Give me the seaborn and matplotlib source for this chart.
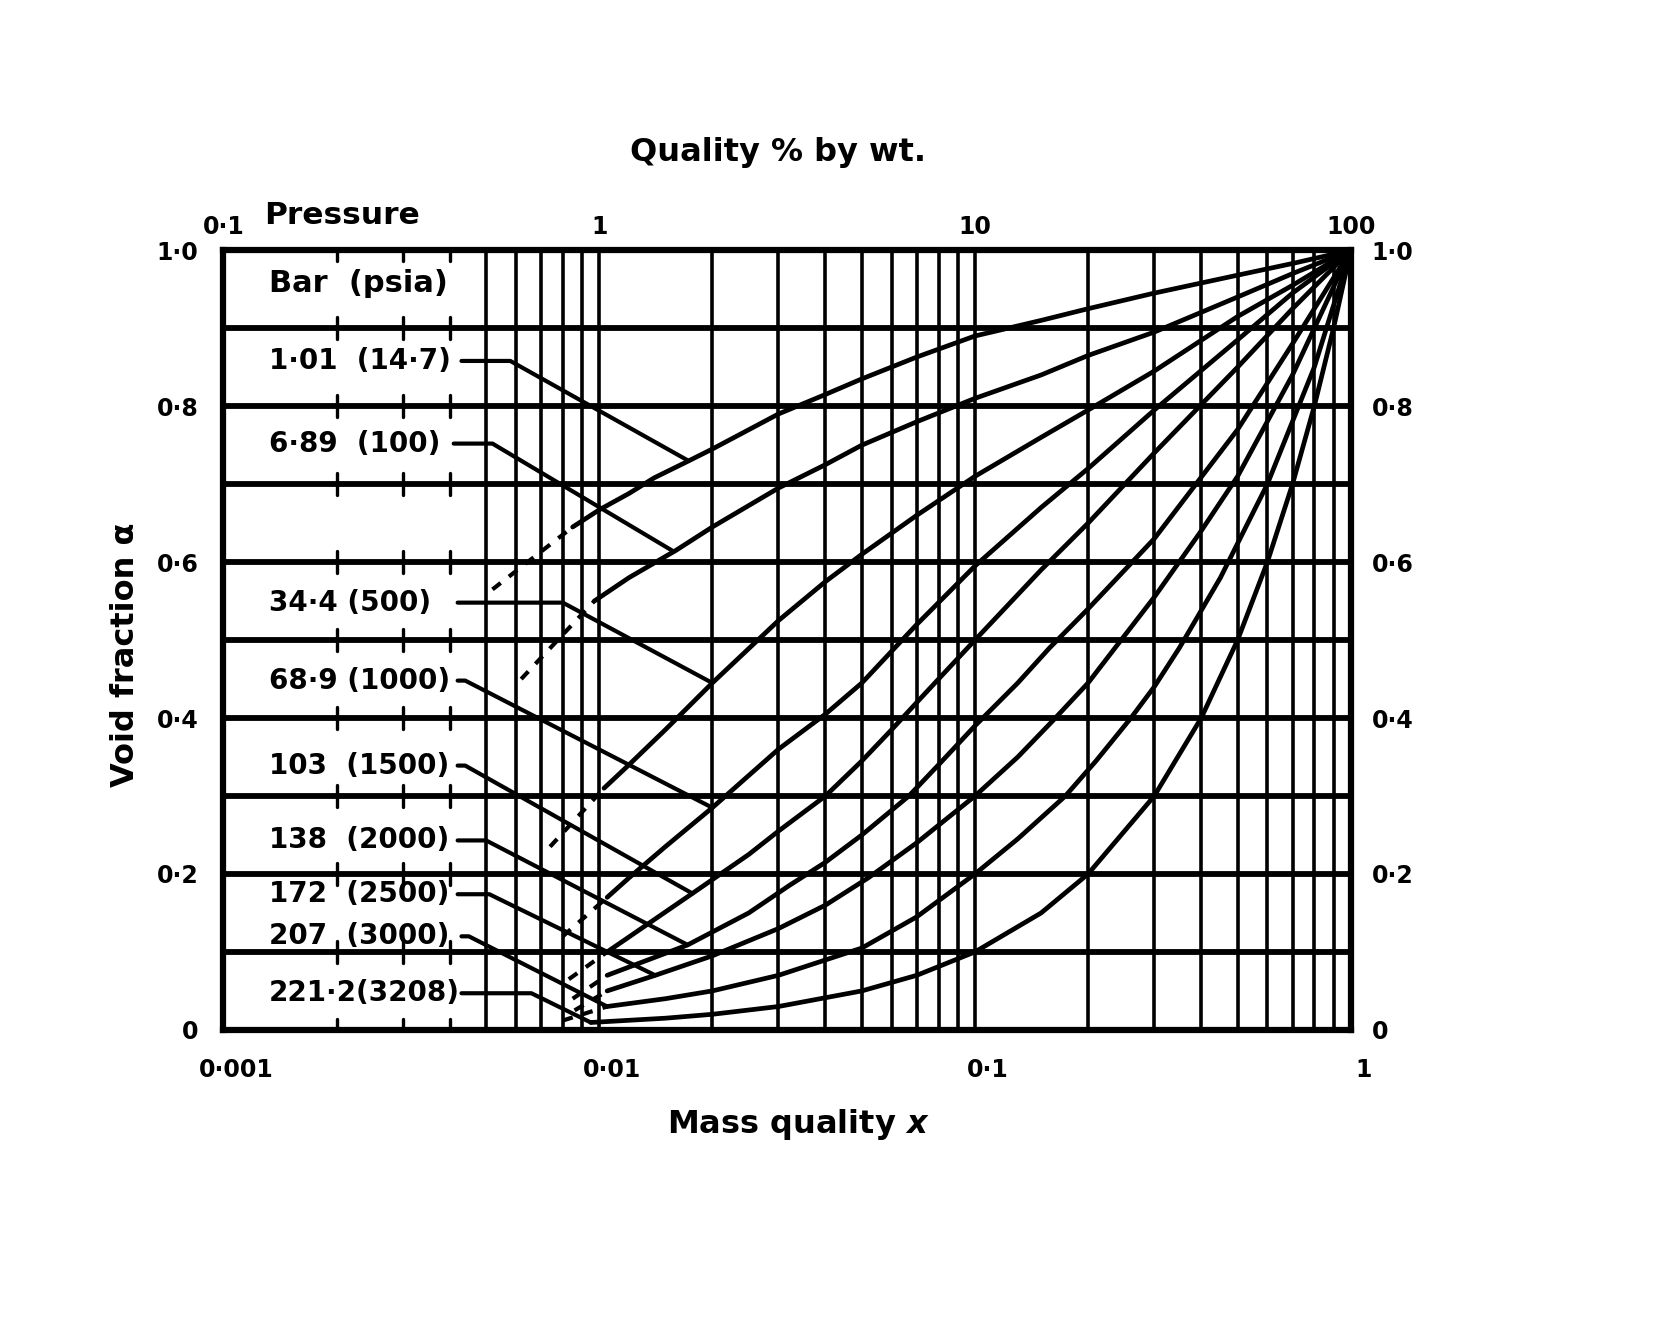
import numpy as np
import pandas as pd
import matplotlib
matplotlib.use("Agg")
import matplotlib.pyplot as plt
import matplotlib.transforms as mtransforms
from matplotlib.ticker import NullLocator, FixedLocator
import seaborn as sns

# ---------------- data ----------------
curve_names = ["1·01  (14·7)", "6·89  (100)", "34·4 (500)", "68·9 (1000)",
               "103  (1500)", "138  (2000)", "172  (2500)", "207  (3000)",
               "221·2(3208)"]
label_alpha = [0.858, 0.752, 0.548, 0.448, 0.339, 0.243, 0.174, 0.120, 0.047]

x_p1 = [0.0085, 0.010, 0.012, 0.014, 0.017, 0.020, 0.030, 0.040, 0.050, 0.070, 0.10, 0.15, 0.20, 0.30, 0.50, 0.70, 1.0]
a_p1 = [0.645, 0.667, 0.688, 0.708, 0.728, 0.745, 0.790, 0.815, 0.835, 0.863, 0.890, 0.910, 0.925, 0.945, 0.968, 0.983, 1.0]

x_p2 = [0.0097, 0.012, 0.016, 0.020, 0.030, 0.040, 0.050, 0.070, 0.10, 0.15, 0.20, 0.30, 0.50, 0.70, 1.0]
a_p2 = [0.550, 0.580, 0.615, 0.645, 0.695, 0.725, 0.750, 0.780, 0.810, 0.840, 0.865, 0.895, 0.940, 0.970, 1.0]

x_p3 = [0.0103, 0.012, 0.015, 0.020, 0.030, 0.040, 0.050, 0.070, 0.10, 0.15, 0.20, 0.30, 0.50, 0.70, 1.0]
a_p3 = [0.310, 0.340, 0.385, 0.445, 0.525, 0.575, 0.610, 0.660, 0.710, 0.760, 0.795, 0.845, 0.915, 0.955, 1.0]

x_p4 = [0.0105, 0.012, 0.015, 0.020, 0.030, 0.040, 0.050, 0.070, 0.10, 0.15, 0.20, 0.30, 0.50, 0.70, 1.0]
a_p4 = [0.170, 0.195, 0.235, 0.285, 0.360, 0.405, 0.445, 0.520, 0.595, 0.670, 0.720, 0.795, 0.885, 0.945, 1.0]

x_p5 = [0.0105, 0.0177, 0.025, 0.030, 0.040, 0.050, 0.060, 0.070, 0.080, 0.10, 0.15, 0.20, 0.30, 0.50, 0.70, 1.0]
a_p5 = [0.100, 0.175, 0.225, 0.255, 0.300, 0.345, 0.385, 0.420, 0.450, 0.500, 0.590, 0.650, 0.740, 0.850, 0.925, 1.0]

x_p6 = [0.0105, 0.0172, 0.025, 0.032, 0.040, 0.050, 0.0667, 0.080, 0.10, 0.13, 0.158, 0.20, 0.30, 0.50, 0.70, 1.0]
a_p6 = [0.070, 0.109, 0.150, 0.185, 0.215, 0.250, 0.300, 0.340, 0.390, 0.445, 0.490, 0.540, 0.630, 0.770, 0.880, 1.0]

x_p7 = [0.0105, 0.0141, 0.020, 0.030, 0.040, 0.052, 0.070, 0.10, 0.13, 0.16, 0.20, 0.236, 0.30, 0.40, 0.50, 0.70, 1.0]
a_p7 = [0.050, 0.070, 0.095, 0.130, 0.160, 0.195, 0.240, 0.300, 0.350, 0.395, 0.445, 0.490, 0.555, 0.640, 0.710, 0.840, 1.0]

x_p8 = [0.0105, 0.015, 0.020, 0.030, 0.050, 0.070, 0.10, 0.13, 0.174, 0.21, 0.26, 0.30, 0.35, 0.45, 0.60, 0.80, 1.0]
a_p8 = [0.030, 0.040, 0.050, 0.070, 0.105, 0.145, 0.200, 0.245, 0.300, 0.345, 0.400, 0.440, 0.490, 0.580, 0.700, 0.850, 1.0]

x_p9 = [0.0095, 0.015, 0.020, 0.030, 0.050, 0.070, 0.10, 0.15, 0.20, 0.30, 0.40, 0.50, 0.60, 0.70, 0.80, 0.90, 1.0]
a_p9 = [0.0095, 0.015, 0.020, 0.030, 0.050, 0.070, 0.10, 0.15, 0.20, 0.30, 0.40, 0.50, 0.60, 0.70, 0.80, 0.90, 1.0]

# dashed low-quality extensions (start, end)
ext_x = [[0.0052, 0.0085], [0.0062, 0.0097], [0.0074, 0.0103], [0.0080, 0.0105],
         [0.0083, 0.0105], [0.0085, 0.0105], [0.0086, 0.0105], [0.0080, 0.0105]]
ext_a = [[0.565, 0.645], [0.450, 0.550], [0.235, 0.310], [0.120, 0.170],
         [0.065, 0.100], [0.040, 0.070], [0.025, 0.050], [0.012, 0.030]]

# leader lines: start x (text end), knee x, target x on curve
lead_start = [0.0043, 0.0041, 0.0042, 0.0042, 0.0042, 0.0042, 0.0042, 0.0043, 0.0043]
lead_knee = [0.0058, 0.0052, 0.0080, 0.0044, 0.0044, 0.0050, 0.0051, 0.0045, 0.0066]
lead_target = [0.0173, 0.0158, 0.020, 0.020, 0.0177, 0.0172, 0.0141, 0.0105, 0.0095]

bottom_ticks = [0.001, 0.01, 0.1, 1.0]
bottom_labels = ["0·001", "0·01", "0·1", "1"]
top_ticks = [0.1, 1, 10, 100]
top_labels = ["0·1", "1", "10", "100"]
y_ticks = [0, 0.2, 0.4, 0.6, 0.8, 1.0]
y_labels = ["0", "0·2", "0·4", "0·6", "0·8", "1·0"]

curve_x = [x_p1, x_p2, x_p3, x_p4, x_p5, x_p6, x_p7, x_p8, x_p9]
curve_a = [a_p1, a_p2, a_p3, a_p4, a_p5, a_p6, a_p7, a_p8, a_p9]

# ---------------- figure ----------------
sns.set_theme(style="white")
plt.rcParams['font.family'] = ['DejaVu Sans']
plt.rcParams['font.weight'] = 'bold'
for key in ['text.color', 'axes.labelcolor', 'xtick.color', 'ytick.color', 'axes.edgecolor']:
    plt.rcParams[key] = 'black'

fig = plt.figure(figsize=(16.8, 13.17), dpi=100)
ax = fig.add_axes([0.133, 0.218, 0.671, 0.592])
ax.set_xscale('log')
ax.set_xlim(0.001, 1.0)
ax.set_ylim(0, 1.0)

# grid
for yv in np.arange(1, 10) / 10:
    ax.axhline(yv, color='black', lw=4.2, zorder=1)
full_v = [k * 0.001 for k in range(5, 10)] + [k * 0.01 for k in range(1, 10)] + [k * 0.1 for k in range(1, 10)]
for xv in full_v:
    ax.axvline(xv, color='black', lw=2.6, zorder=1)
for xv in [0.002, 0.003, 0.004]:
    for yv in np.arange(0, 11) / 10:
        ax.plot([xv, xv], [yv - 0.014, yv + 0.014], color='black', lw=2.4, zorder=1)

# curves
frames = []
for name, xs, ys in zip(curve_names, curve_x, curve_a):
    frames.append(pd.DataFrame({'x': xs, 'alpha': ys, 'curve': name}))
df = pd.concat(frames, ignore_index=True)
sns.lineplot(data=df, x='x', y='alpha', hue='curve', palette=['black'] * len(curve_names),
             estimator=None, sort=False, legend=False, lw=3.4, ax=ax, zorder=3)

eframes = []
for i, (xs, ys) in enumerate(zip(ext_x, ext_a)):
    eframes.append(pd.DataFrame({'x': xs, 'alpha': ys, 'curve': f'e{i}'}))
edf = pd.concat(eframes, ignore_index=True)
sns.lineplot(data=edf, x='x', y='alpha', hue='curve', palette=['black'] * len(ext_x),
             estimator=None, sort=False, legend=False, lw=3.0, ax=ax, zorder=3,
             linestyle=(0, (2.5, 2.5)))

# labels and leaders
for i, name in enumerate(curve_names):
    ax.text(0.00132, label_alpha[i], name, ha='left', va='center', fontsize=20,
            fontweight='bold', zorder=4)
    lx = np.log10(curve_x[i])
    tgt = np.interp(np.log10(lead_target[i]), lx, curve_a[i])
    ax.plot([lead_start[i], lead_knee[i], lead_target[i]],
            [label_alpha[i], label_alpha[i], tgt], color='black', lw=3.0, zorder=3)

ax.text(0.00132, 0.957, "Bar  (psia)", ha='left', va='center', fontsize=22, fontweight='bold')
ax.text(0.00128, 1.045, "Pressure", ha='left', va='center', fontsize=22.5, fontweight='bold',
        clip_on=False)

# frame
for s in ax.spines.values():
    s.set_linewidth(4.5)
    s.set_color('black')

ax.xaxis.set_major_locator(FixedLocator(bottom_ticks))
ax.xaxis.set_minor_locator(NullLocator())
ax.set_xticklabels(bottom_labels)
ax.set_yticks(y_ticks)
ax.set_yticklabels(y_labels)
ax.tick_params(axis='x', length=0, pad=20, labelsize=17)
ax.tick_params(axis='y', length=0, pad=18, labelsize=17)
shift = mtransforms.ScaledTranslation(0.13, 0, fig.dpi_scale_trans)
for t in ax.get_xticklabels():
    t.set_fontweight('bold')
    t.set_transform(t.get_transform() + shift)
for t in ax.get_yticklabels():
    t.set_fontweight('bold')
ax.set_xlabel('')
ax.set_ylabel('')

top = ax.secondary_xaxis('top', functions=(lambda v: v * 100, lambda v: v / 100))
top.xaxis.set_major_locator(FixedLocator(top_ticks))
top.xaxis.set_minor_locator(NullLocator())
top.set_xticklabels(top_labels)
top.tick_params(length=0, pad=8, labelsize=17)
for t in top.get_xticklabels():
    t.set_fontweight('bold')
top.spines['top'].set_visible(False)

right = ax.secondary_yaxis('right')
right.yaxis.set_major_locator(FixedLocator(y_ticks))
right.set_yticklabels(y_labels)
right.tick_params(length=0, pad=15, labelsize=17)
for t in right.get_yticklabels():
    t.set_fontweight('bold')
right.spines['right'].set_visible(False)

fig.text(0.463, 0.884, "Quality % by wt.", ha='center', va='center', fontsize=23, fontweight='bold')
fig.text(0.475, 0.146, "Mass quality $\\it{x}$", ha='center', va='center', fontsize=23, fontweight='bold')
fig.text(0.075, 0.503, "Void fraction α", ha='center', va='center', rotation=90, fontsize=23,
         fontweight='bold')

fig.savefig("out.png", dpi=100, facecolor='white')
